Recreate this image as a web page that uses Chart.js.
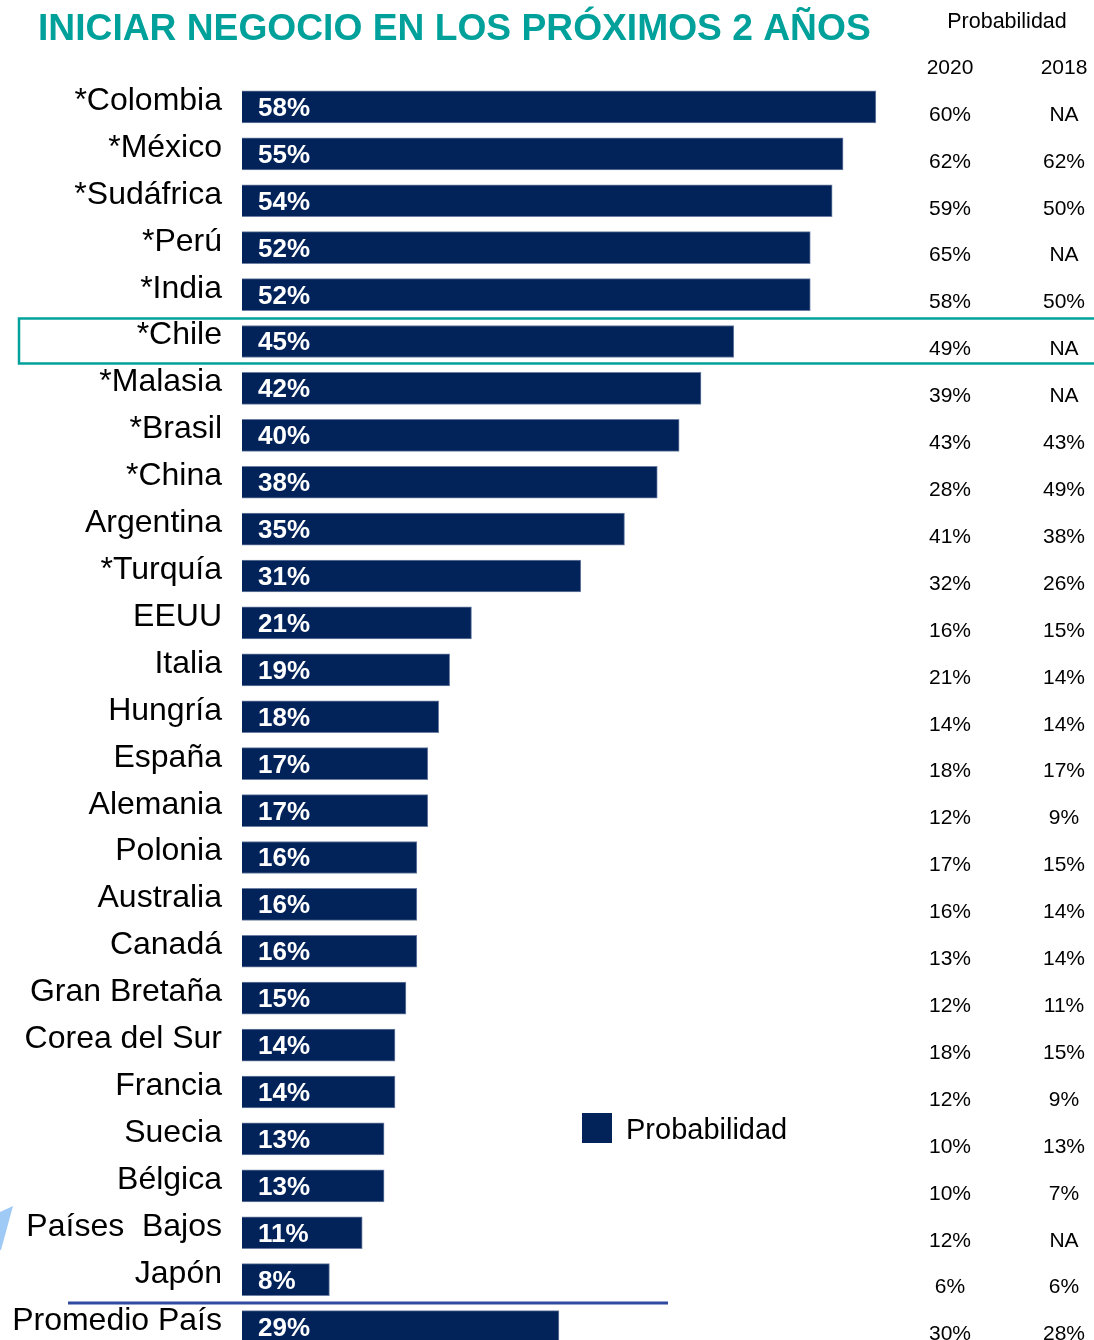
<!DOCTYPE html>
<html>
<head>
<meta charset="utf-8">
<script src="https://cdn.jsdelivr.net/npm/chart.js@4"></script>
<style>
  html, body { margin: 0; padding: 0; background: #fff; overflow: hidden; }
  canvas { display: block; }
</style>
</head>
<body>
<canvas id="negocioChart" width="1094" height="1360"></canvas>
<script>
const countries = ['*Colombia', '*México', '*Sudáfrica', '*Perú', '*India', '*Chile', '*Malasia', '*Brasil', '*China',
  'Argentina', '*Turquía', 'EEUU', 'Italia', 'Hungría', 'España', 'Alemania', 'Polonia', 'Australia', 'Canadá',
  'Gran Bretaña', 'Corea del Sur', 'Francia', 'Suecia', 'Bélgica', 'Países  Bajos', 'Japón', 'Promedio País'];
const probabilidad = [58, 55, 54, 52, 52, 45, 42, 40, 38, 35, 31, 21, 19, 18, 17, 17, 16, 16, 16, 15, 14, 14, 13, 13, 11, 8, 29];
const prob2020 = ['60%', '62%', '59%', '65%', '58%', '49%', '39%', '43%', '28%', '41%', '32%', '16%', '21%', '14%', '18%', '12%', '17%', '16%', '13%', '12%', '18%', '12%', '10%', '10%', '12%', '6%', '30%'];
const prob2018 = ['NA', '62%', '50%', 'NA', '50%', 'NA', 'NA', '43%', '49%', '38%', '26%', '15%', '14%', '14%', '17%', '9%', '15%', '14%', '14%', '11%', '15%', '9%', '13%', '7%', 'NA', '6%', '28%'];
const tableYears = ['2020', '2018'];

const FONT = "'Liberation Sans', Arial, sans-serif";
const NAVY = '#02225a';
const TEAL = '#00a19b';

// everything around the bars: title, row names, table, legend, highlight box
const extras = {
  id: 'extras',
  afterDraw(chart) {
    const ctx = chart.ctx;
    const y = chart.scales.y;
    const x = chart.scales.x;
    ctx.save();

    ctx.fillStyle = TEAL;
    ctx.font = 'bold 37.2px ' + FONT;
    ctx.textAlign = 'left';
    ctx.textBaseline = 'alphabetic';
    ctx.fillText('INICIAR NEGOCIO EN LOS PRÓXIMOS 2 AÑOS', 38, 40);

    ctx.fillStyle = '#000';
    ctx.font = '21.5px ' + FONT;
    ctx.textAlign = 'center';
    ctx.textBaseline = 'middle';
    ctx.fillText('Probabilidad', 1007, 22);
    ctx.font = '21px ' + FONT;
    ctx.fillText(tableYears[0], 950, 68);
    ctx.fillText(tableYears[1], 1064, 68);

    countries.forEach((c, i) => {
      const cy = y.getPixelForValue(i);
      ctx.fillStyle = '#000';
      ctx.font = '32px ' + FONT;
      ctx.textAlign = 'right';
      ctx.textBaseline = 'alphabetic';
      ctx.fillText(c, 222, cy + 3);

      ctx.fillStyle = '#fff';
      ctx.font = 'bold 26px ' + FONT;
      ctx.textAlign = 'left';
      ctx.fillText(probabilidad[i] + '%', x.getPixelForValue(0) + 16, cy + 9);

      ctx.fillStyle = '#000';
      ctx.font = '21px ' + FONT;
      ctx.textAlign = 'center';
      ctx.textBaseline = 'middle';
      ctx.fillText(prob2020[i], 950, cy + 8);
      ctx.fillText(prob2018[i], 1064, cy + 8);
    });

    // Chile highlight
    const chileY = y.getPixelForValue(countries.indexOf('*Chile'));
    ctx.strokeStyle = TEAL;
    ctx.lineWidth = 2.5;
    ctx.strokeRect(19, chileY - 23, 1080, 45);

    // separator above the average
    const sepY = (y.getPixelForValue(countries.length - 2) + y.getPixelForValue(countries.length - 1)) / 2;
    ctx.strokeStyle = '#2f4aa0';
    ctx.lineWidth = 3;
    ctx.beginPath();
    ctx.moveTo(68, sepY);
    ctx.lineTo(668, sepY);
    ctx.stroke();

    // legend
    const ds = chart.data.datasets[0];
    ctx.fillStyle = ds.backgroundColor;
    ctx.fillRect(582, 1113, 30, 30);
    ctx.fillStyle = '#000';
    ctx.font = '29px ' + FONT;
    ctx.textAlign = 'left';
    ctx.textBaseline = 'middle';
    ctx.fillText(ds.label, 626, 1131);

    // little slide decoration on the left edge
    ctx.fillStyle = '#9fcaf6';
    ctx.beginPath();
    ctx.moveTo(0, 1212);
    ctx.lineTo(13, 1206);
    ctx.lineTo(1, 1250);
    ctx.lineTo(0, 1250);
    ctx.closePath();
    ctx.fill();

    ctx.restore();
  }
};

new Chart(document.getElementById('negocioChart'), {
  type: 'bar',
  data: {
    labels: countries,
    datasets: [{
      label: 'Probabilidad',
      data: probabilidad,
      backgroundColor: NAVY,
      borderColor: '#6c7fa3',
      borderWidth: 1,
      barThickness: 32
    }]
  },
  options: {
    indexAxis: 'y',
    responsive: false,
    animation: false,
    layout: { padding: { left: 242, right: 87, top: 83.5, bottom: 10 } },
    scales: {
      x: { display: false, min: 0, max: 70 },
      y: { display: false }
    },
    plugins: {
      legend: { display: false },
      tooltip: { enabled: false },
      title: { display: false }
    }
  },
  plugins: [extras]
});
</script>
</body>
</html>
